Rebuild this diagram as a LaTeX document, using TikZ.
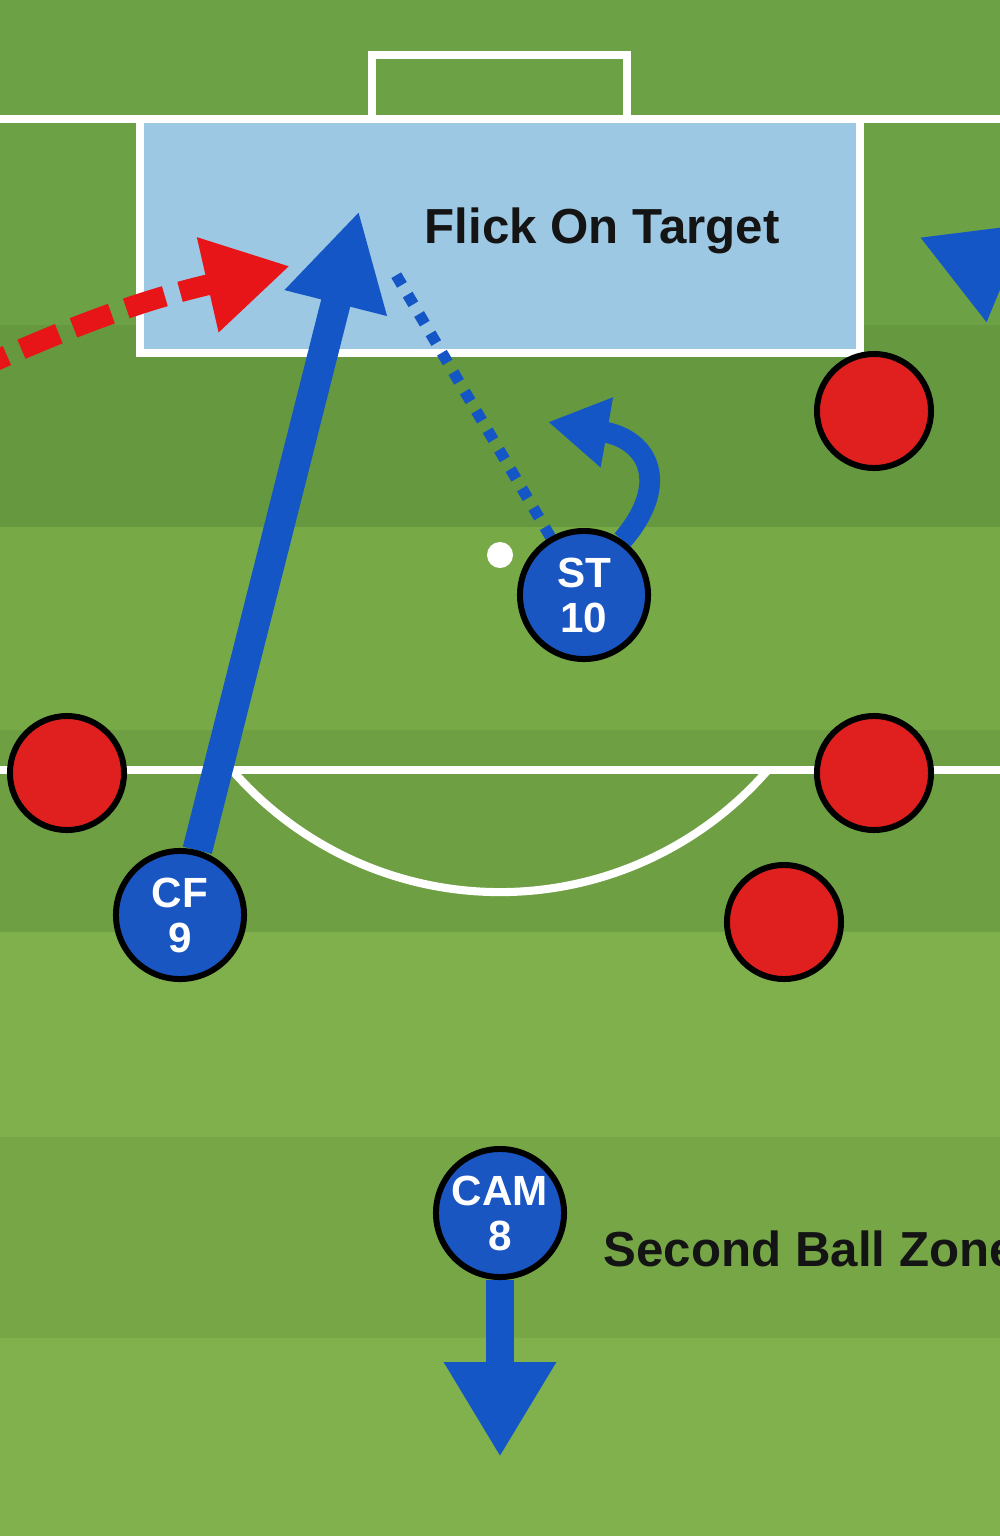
\documentclass[tikz,border=0pt]{standalone}
\usepackage{fontspec}
\setmainfont{Liberation Sans}
\usetikzlibrary{arrows.meta}

\definecolor{turfA}{HTML}{6CA146}
\definecolor{turfB}{HTML}{66993F}
\definecolor{turfC}{HTML}{77AA47}
\definecolor{turfD}{HTML}{6E9F42}
\definecolor{turfE}{HTML}{80B04B}
\definecolor{turfF}{HTML}{76A645}
\definecolor{turfG}{HTML}{81B14C}
\definecolor{kitblue}{HTML}{1A56C2}
\definecolor{runblue}{HTML}{1556C6}
\definecolor{kitred}{HTML}{E0201F}
\definecolor{crossred}{HTML}{E81518}
\definecolor{boxblue}{HTML}{9DC8E3}

\pgfdeclarelayer{pitch}
\pgfdeclarelayer{moves}
\pgfsetlayers{pitch,moves,main}

\tikzset{
  pitchline/.style={draw=white, line width=2.3pt},
  player/.style={circle, draw=black, line width=1.7pt, fill=kitblue, minimum size=1.28cm,
    inner sep=0pt, text=white, align=center, font=\fontsize{12}{12.8}\selectfont\bfseries},
  opponent/.style={circle, draw=black, line width=1.7pt, fill=kitred, minimum size=1.14cm},
  ball/.style={circle, fill=white, minimum size=0.26cm, inner sep=0pt},
  tag/.style={font=\fontsize{14}{16}\selectfont\bfseries, text=black!92},
  run/.style={draw=runblue, line width=8.5pt, -{Triangle[length=27pt,width=28pt]}},
  cross/.style={draw=crossred, line width=5.9pt, dash pattern=on 11.5pt off 4.5pt,
    -{Triangle[length=24pt,width=26pt]}},
  layoff/.style={draw=runblue, line width=3.2pt, dash pattern=on 3.2pt off 3.2pt},
  turn/.style={draw=runblue, line width=5.9pt, -{Triangle[length=17pt,width=19pt]}}
}

\begin{document}
\begin{tikzpicture}[x=0.01cm, y=-0.01cm]
\useasboundingbox (0,0) rectangle (1000,1536);

\begin{pgfonlayer}{pitch}
  % grass bands
  \foreach \ya/\yb/\shade in {0/325/turfA, 325/527/turfB, 527/730/turfC, 730/932/turfD,
      932/1137/turfE, 1137/1338/turfF, 1338/1536/turfG}
    \fill[\shade] (0,\ya) rectangle (1000,\yb);
  % markings
  \draw[pitchline] (0,119) -- (1000,119);
  \draw[pitchline] (372,119) -- (372,55) -- (627,55) -- (627,119);
  \draw[pitchline, fill=boxblue] (140,119) rectangle (860,353);
  \draw[pitchline] (0,770) -- (1000,770);
  \draw[pitchline] (232,770) arc[start angle=139, end angle=41, radius=355];
\end{pgfonlayer}

% defenders
\node[opponent] (d1) at (874,411) {};
\node[opponent] (d2) at (67,773) {};
\node[opponent] (d3) at (874,773) {};
\node[opponent] (d4) at (784,922) {};

% attackers
\node[ball] (ball) at (500,555) {};
\node[player] (st) at (584,595) {ST\\10};
\node[player] (cf) at (180,915) {CF\\9};
\node[player] (cam) at (500,1213) {CAM\\8};

\node[tag] (target) at (602,231) {Flick On Target};
\node[tag, anchor=base west, inner sep=0pt] (zone) at (603,1266) {Second Ball Zone};

\coordinate (flick) at (359,211);
\coordinate (crossfrom) at (-30,372);
\coordinate (cross) at (290,266);
\coordinate (knock) at (392,268);
\coordinate (spin) at (548,422);
\coordinate (widefrom) at (1120,320);
\coordinate (wide) at (919,237);
\coordinate (drop) at (500,1457);

\begin{pgfonlayer}{moves}
  \draw[run] (cf.75) -- (flick);
  \draw[run] (widefrom) -- (wide);
  \draw[run, line width=8pt, -{Triangle[length=27pt,width=30pt]}] (cam.south) -- (drop);
  \draw[cross] (crossfrom) .. controls (80,322) and (150,298) .. (cross);
  \draw[layoff] (st.120) -- (knock);
  \draw[turn] (st.55) .. controls (670,485) and (650,440) .. (spin);
\end{pgfonlayer}
\end{tikzpicture}
\end{document}
